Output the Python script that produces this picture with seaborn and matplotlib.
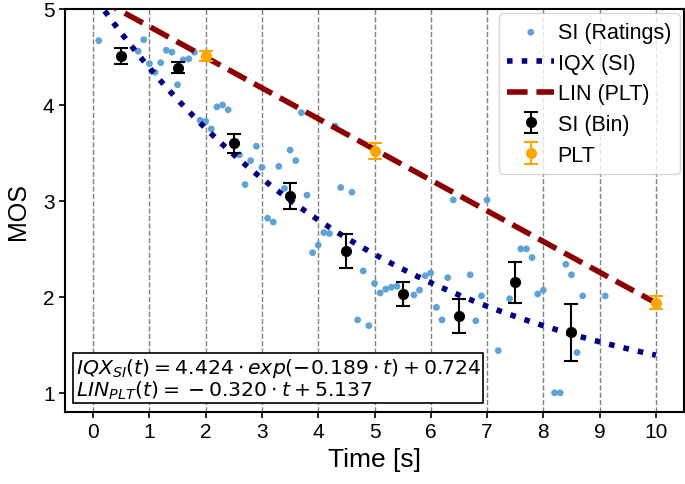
import numpy as np
import pandas as pd
import matplotlib
matplotlib.use("Agg")
import matplotlib.pyplot as plt
import seaborn as sns

# ---------------- data ----------------
rating_t = [0.10, 0.80, 0.90, 1.00, 1.10, 1.20, 1.30, 1.40, 1.50, 1.60, 1.70, 1.80,
            1.90, 2.00, 2.10, 2.20, 2.30, 2.40, 2.60, 2.70, 2.80, 2.90, 3.00, 3.10,
            3.20, 3.30, 3.40, 3.50, 3.60, 3.70, 3.80, 3.90, 4.00, 4.10, 4.20, 4.30,
            4.40, 4.60, 4.70, 4.80, 4.90, 5.00, 5.10, 5.20, 5.30, 5.40, 5.70, 5.80,
            5.90, 6.00, 6.10, 6.20, 6.30, 6.40, 6.70, 6.80, 6.90, 7.00, 7.20, 7.40,
            7.60, 7.70, 7.80, 7.90, 8.00, 8.20, 8.30, 8.40, 8.50, 8.60, 8.70, 9.10]
rating_mos = [4.67, 4.56, 4.68, 4.43, 4.34, 4.44, 4.57, 4.55, 4.21, 4.47, 4.48, 4.55,
              3.84, 3.83, 3.75, 3.98, 4.00, 3.95, 3.48, 3.17, 3.42, 3.57, 3.35, 2.82,
              2.78, 3.36, 3.13, 3.53, 3.42, 3.92, 3.06, 2.46, 2.54, 2.67, 2.66, 3.78,
              3.14, 3.09, 1.76, 2.27, 1.70, 2.14, 2.04, 2.08, 2.10, 2.11, 2.02, 2.07,
              2.22, 2.25, 1.89, 1.76, 2.20, 3.01, 2.23, 1.75, 2.01, 3.01, 1.44, 1.98,
              2.50, 2.50, 2.41, 2.03, 2.07, 1.00, 1.00, 2.34, 2.23, 1.42, 2.01, 2.01]

bin_t = [0.5, 1.5, 2.5, 3.5, 4.5, 5.5, 6.5, 7.5, 8.5]
bin_mos = [4.51, 4.39, 3.60, 3.05, 2.48, 2.03, 1.80, 2.15, 1.63]
bin_err = [0.08, 0.055, 0.10, 0.135, 0.18, 0.125, 0.18, 0.21, 0.30]

plt_t = [2, 5, 10]
plt_mos = [4.51, 3.52, 1.94]
plt_err = [0.05, 0.08, 0.07]

# fitted model parameters (as printed on the chart)
iqx_a, iqx_b, iqx_c = 4.424, 0.189, 0.724
lin_m, lin_n = -0.320, 5.137

x_ticks = list(range(0, 11))
y_ticks = [1, 2, 3, 4, 5]

# ---------------- plot ----------------
plt.rcParams['font.family'] = ['Liberation Sans', 'DejaVu Sans']
plt.rcParams['mathtext.fontset'] = 'dejavusans'

fig = plt.figure(figsize=(6.85, 4.85), dpi=100)
ax = fig.add_axes([65 / 685, 1 - 413 / 485, (684 - 65) / 685, (413 - 10) / 485])

tt = np.linspace(0, 10, 300)
iqx = iqx_a * np.exp(-iqx_b * tt) + iqx_c
lin = lin_m * tt + lin_n

sns.scatterplot(x=rating_t, y=rating_mos, color='#5da3d6', s=24, edgecolor='none',
                label='SI (Ratings)', ax=ax, zorder=2)
sns.lineplot(x=tt, y=iqx, color='navy', linestyle=':', linewidth=4,
             label='IQX (SI)', ax=ax, zorder=3)
sns.lineplot(x=tt, y=lin, color='darkred', linestyle='--', linewidth=4,
             label='LIN (PLT)', ax=ax, zorder=3)
ax.errorbar(bin_t, bin_mos, yerr=bin_err, fmt='o', color='black', ms=7,
            capsize=5, elinewidth=1.5, capthick=1.5, label='SI (Bin)', zorder=4)
ax.errorbar(plt_t, plt_mos, yerr=plt_err, fmt='o', color='orange', ms=7,
            capsize=5, elinewidth=1.5, capthick=1.5, label='PLT', zorder=4)

ax.set_xlim(-0.5, 10.5)
ax.set_ylim(0.8, 5.0)
ax.set_xticks(x_ticks)
ax.set_yticks(y_ticks)
ax.tick_params(labelsize=15, width=1.2, length=4)
ax.grid(axis='x', linestyle='--', color='gray', linewidth=1)
ax.set_axisbelow(True)
for s in ax.spines.values():
    s.set_linewidth(1.5)
ax.set_xlabel('Time [s]', fontsize=19)
ax.set_ylabel('MOS', fontsize=18, labelpad=9)

ax.legend(loc='upper right', fontsize=15.5, borderaxespad=0.2, handlelength=2.2,
          handletextpad=0.15, labelspacing=0.45, borderpad=0.4)

ax.text(0.017, 0.027,
        r'$IQX_{SI}(t) = 4.424 \cdot exp(-0.189 \cdot t) + 0.724$' + '\n' +
        r'$LIN_{PLT}(t) = {} - 0.320 \cdot t + 5.137$',
        transform=ax.transAxes, fontsize=14.7, va='bottom', ha='left', zorder=5,
        linespacing=1.0,
        bbox=dict(boxstyle='square,pad=0.1', fc='white', ec='black', lw=1.2))

fig.savefig('out.png', dpi=100)
